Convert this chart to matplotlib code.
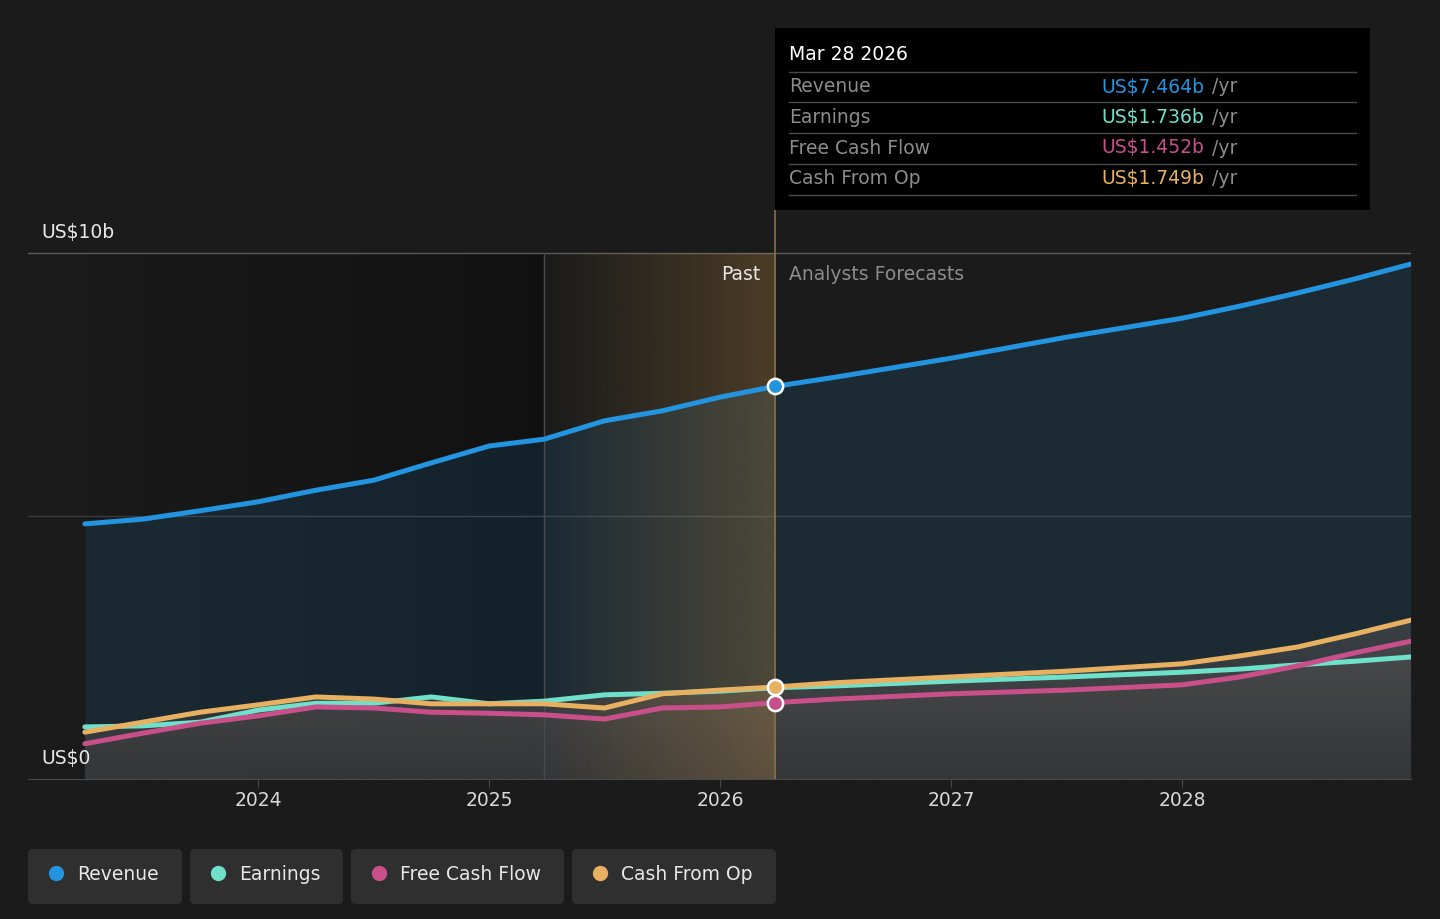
import numpy as np
import matplotlib
matplotlib.use("Agg")
import matplotlib.pyplot as plt
from matplotlib.patches import FancyBboxPatch, Rectangle, Polygon

# decimal years
past_x = [2023.25, 2023.5, 2023.75, 2024.0, 2024.25, 2024.5, 2024.75, 2025.0,
          2025.238, 2025.5, 2025.75, 2026.0, 2026.238]
fut_x = [2026.238, 2026.5, 2027.0, 2027.5, 2028.0, 2028.25, 2028.5, 2028.75, 2028.99]

# US$ billions
revenue_past = [4.85, 4.94, 5.10, 5.27, 5.49, 5.68, 6.01, 6.33, 6.46, 6.81, 7.00, 7.26, 7.464]
revenue_fut = [7.464, 7.64, 8.00, 8.40, 8.76, 8.99, 9.24, 9.51, 9.79]
earnings_past = [0.99, 1.01, 1.08, 1.31, 1.44, 1.44, 1.56, 1.43, 1.48, 1.60, 1.63, 1.67, 1.736]
earnings_fut = [1.736, 1.77, 1.86, 1.94, 2.03, 2.09, 2.17, 2.24, 2.32]
fcf_past = [0.67, 0.87, 1.06, 1.20, 1.37, 1.35, 1.27, 1.25, 1.22, 1.14, 1.35, 1.37, 1.452]
fcf_fut = [1.452, 1.52, 1.62, 1.69, 1.79, 1.94, 2.15, 2.40, 2.62]
cfo_past = [0.89, 1.08, 1.27, 1.41, 1.56, 1.52, 1.43, 1.43, 1.43, 1.35, 1.62, 1.69, 1.749]
cfo_fut = [1.749, 1.83, 1.94, 2.05, 2.19, 2.34, 2.51, 2.76, 3.02]

names = ["Revenue", "Earnings", "Free Cash Flow", "Cash From Op"]
colors = ["#2394df", "#6fe0c9", "#c94f8a", "#e8b061"]
tip_values = ["US$7.464b", "US$1.736b", "US$1.452b", "US$1.749b"]
year_ticks = [2024, 2025, 2026, 2027, 2028]

now_x = 2026.238
start_hl = 2025.238
bg = "#1b1b1b"

fig = plt.figure(figsize=(14.4, 9.19), dpi=100, facecolor=bg)
W, H = 1440, 919
ax = fig.add_axes([28 / W, 1 - 779 / H, (1411 - 28) / W, (779 - 210) / H])
ax.set_facecolor(bg)
x_lo, x_hi = 2023.004, 2028.991

# darker past background
dark = np.zeros((1, 256, 4))
dark[..., 3] = np.linspace(0.0, 0.35, 256)
ax.imshow(dark, extent=[x_lo, start_hl, 0, 10], aspect="auto", zorder=0.5)

allx = past_x + fut_x[1:]
series = [revenue_past + revenue_fut[1:], earnings_past + earnings_fut[1:],
          fcf_past + fcf_fut[1:], cfo_past + cfo_fut[1:]]
ax.fill_between(allx, 0, series[0], color="#2394df", alpha=0.13, lw=0, zorder=1)

# grey gradient fills under the smaller series
top_c = np.array(matplotlib.colors.to_rgb("#555555"))
bot_c = np.array(matplotlib.colors.to_rgb("#383838"))
t = np.linspace(0, 1, 128)[:, None]
grey = np.zeros((128, 1, 4))
grey[:, 0, :3] = top_c * (1 - t) + bot_c * t
grey[..., 3] = 0.55
for s in series[1:]:
    verts = list(zip(allx, s)) + [(allx[-1], 0), (allx[0], 0)]
    poly = Polygon(verts, closed=True, facecolor="none", edgecolor="none")
    ax.add_patch(poly)
    im = ax.imshow(grey, extent=[allx[0], allx[-1], 0, 3.3], aspect="auto", zorder=1.2)
    im.set_clip_path(poly)

# highlight of last year
hl = np.zeros((1, 256, 4))
hl[..., :3] = matplotlib.colors.to_rgb("#e8a84a")
hl[..., 3] = np.linspace(0.0, 0.24, 256)
ax.imshow(hl, extent=[start_hl, now_x, 0, 10], aspect="auto", zorder=1.5)

ax.set_xlim(x_lo, x_hi)
ax.set_ylim(0, (779 - 210) / 52.6)

# grid
ax.axhline(10, color="#5a5a5a", lw=1, zorder=0.8)
ax.axhline(5, color="#3a3a3a", lw=1, zorder=0.8)
ax.axvline(start_hl, ymax=10 / ax.get_ylim()[1], color="#4a4a4a", lw=1, zorder=1.6)
ax.axvline(now_x, color="#8a7048", lw=1.2, zorder=1.6)

# lines
for i in [0, 1, 3, 2]:
    ax.plot(allx, series[i], color=colors[i], lw=3.6, solid_capstyle="round",
            solid_joinstyle="round", zorder=3)
for i in [0, 3, 2]:
    val = [revenue_fut, earnings_fut, fcf_fut, cfo_fut][i][0]
    ax.plot(now_x, val, "o", ms=11, mfc=colors[i], mec="white", mew=1.8, zorder=4)

for sp in ["top", "right", "left"]:
    ax.spines[sp].set_visible(False)
ax.spines["bottom"].set_color("#4a4a4a")
ax.set_yticks([])
ax.set_xticks(year_ticks)
ax.set_xticklabels([str(y) for y in year_ticks])
ax.tick_params(axis="x", colors="#4a4a4a", length=6, labelcolor="#d8d8d8",
               labelsize=13.5, pad=3)

ax.text(2023.06, 10.2, "US$10b", color="#e8e8e8", fontsize=13.5, va="bottom")
ax.text(2023.06, 0.2, "US$0", color="#e8e8e8", fontsize=13.5, va="bottom")
ax.text(now_x - 0.065, 9.6, "Past", color="#e8e8e8", fontsize=13.5, ha="right", va="center")
ax.text(now_x + 0.06, 9.6, "Analysts Forecasts", color="#8c8c8c", fontsize=13.5,
        ha="left", va="center")

# overlay in pixel coordinates for tooltip and legend
ov = fig.add_axes([0, 0, 1, 1], zorder=5)
ov.set_xlim(0, W)
ov.set_ylim(H, 0)
ov.axis("off")
ov.patch.set_alpha(0)

ov.add_patch(Rectangle((775, 28), 595, 182, color="#000000", lw=0))
ov.text(789, 55, "Mar 28 2026", color="white", fontsize=13.5, va="center")
for yy in [72, 102, 133, 164, 195]:
    ov.plot([789, 1356], [yy, yy], color="#4a4a4a", lw=1)
for k in range(4):
    yy = 87 + k * 30.5
    ov.text(789, yy, names[k], color="#8c8c8c", fontsize=13.5, va="center")
    ov.text(1101, yy, tip_values[k], color=colors[k], fontsize=13.5, va="center")
    ov.text(1212, yy, "/yr", color="#8c8c8c", fontsize=13.5, va="center")

boxes = [(28, 182), (190, 343), (351, 564), (572, 776)]
for k, (x0, x1) in enumerate(boxes):
    ov.add_patch(FancyBboxPatch((x0 + 4, 853), x1 - x0 - 8, 47,
                                boxstyle="round,pad=4,rounding_size=5",
                                fc="#2f2f2f", ec="none"))
    ov.plot(x0 + 28, 873, "o", ms=10, color=colors[k])
    ov.text(x0 + 49, 874, names[k], color="#e8e8e8", fontsize=13.5, va="center")

fig.savefig("out.png", dpi=100, facecolor=bg)
